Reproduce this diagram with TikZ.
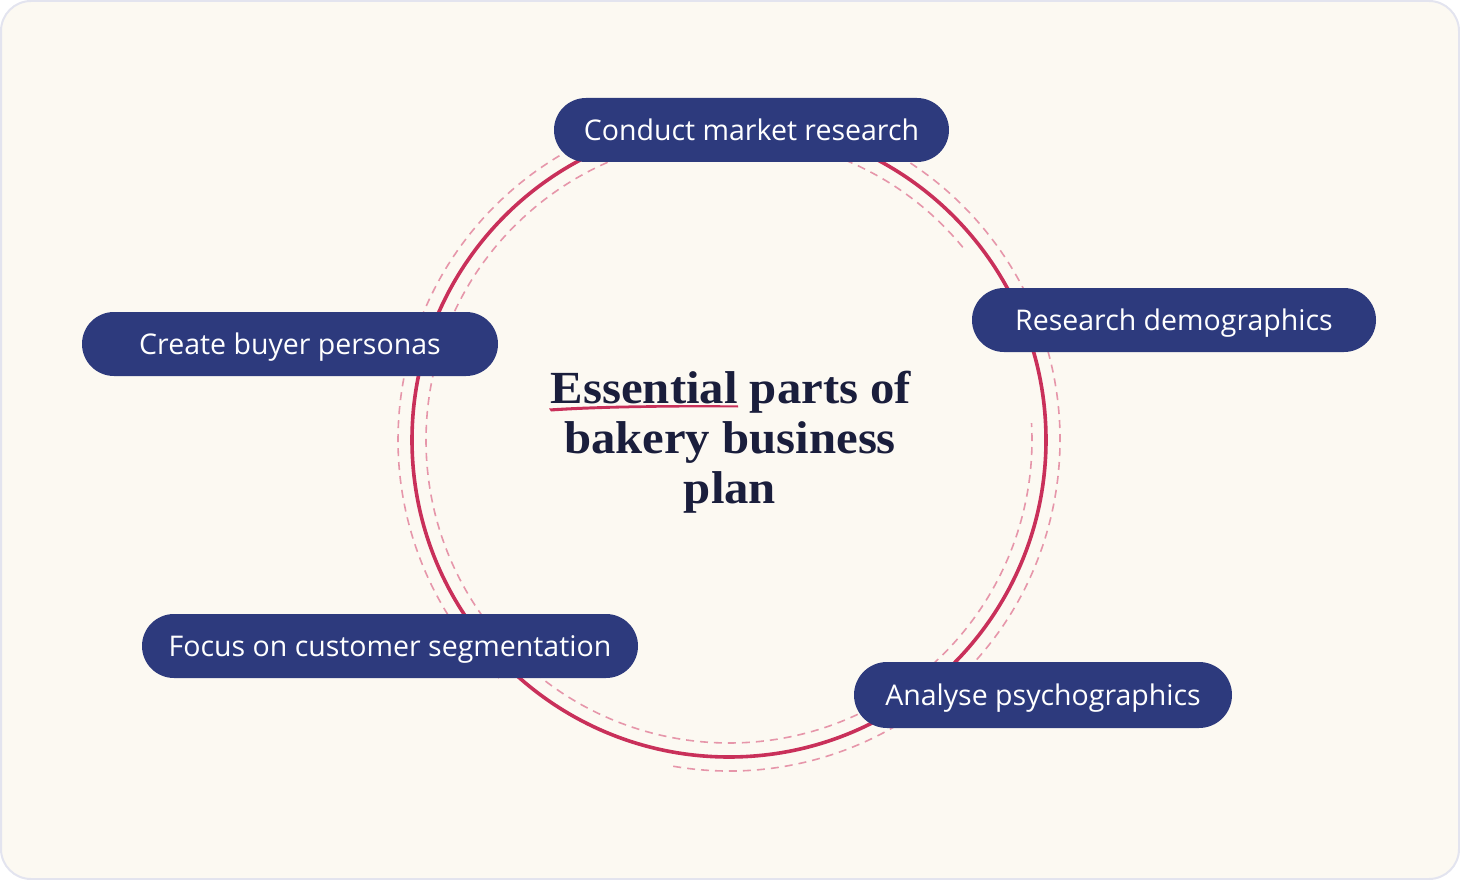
\documentclass[tikz,border=0pt]{standalone}
\usepackage{fontspec}
\setmainfont{Liberation Serif}
\newfontfamily\pillfont{Open Sans}
\newfontfamily\titlefont{Liberation Serif}[FakeStretch=1.06]
\definecolor{bgcream}{HTML}{FCF9F2}
\definecolor{bgborder}{HTML}{E3E4EF}
\definecolor{pillnavy}{HTML}{2D3A7D}
\definecolor{crimson}{HTML}{C9305A}
\definecolor{dashpink}{HTML}{E696AA}
\definecolor{titlenavy}{HTML}{1A1E3C}
\tikzset{
  pill/.style={fill=pillnavy, rounded corners=32pt, minimum height=64pt, inner sep=0pt,
    text height=20.3pt, text depth=0pt,
    text=white, font=\pillfont\fontsize{28.5}{32}\selectfont},
  mainring/.style={draw=crimson, line width=3.6pt},
  dashring/.style={draw=dashpink, line width=1.6pt, dash pattern=on 8pt off 6pt},
  titletext/.style={font=\titlefont\bfseries\fontsize{46}{50}\selectfont, text=titlenavy, anchor=base, inner sep=0pt},
}
\begin{document}
\begin{tikzpicture}[x=1pt,y=-1pt]
\useasboundingbox (0,0) rectangle (1460,880);
\draw[fill=bgcream, draw=bgborder, line width=2pt, rounded corners=30pt] (1,1) rectangle (1459,879);
\coordinate (C) at (729,440);
% rings
\draw[mainring] (C) circle[radius=317];
\draw[dashring] (C) ++(-39.5:303) arc[start angle=-39.5, end angle=-363.2, radius=303];
\draw[dashring] (C) ++(-260.3:331) arc[start angle=-260.3, end angle=-586, radius=331];
% pills
\node[pill, minimum width=395pt] (p1) at (751.5,130) {Conduct market research};
\node[pill, minimum width=404pt] (p2) at (1174,320) {Research demographics};
\node[pill, minimum width=416pt] (p3) at (290,344) {Create buyer personas};
\node[pill, minimum width=496pt] (p4) at (390,646) {Focus on customer segmentation};
\node[pill, minimum width=378pt, minimum height=66pt, rounded corners=33pt] (p5) at (1043,695) {Analyse psychographics};
% title
\node[titletext] (t1) at (731,403) {Essential parts of};
\node[titletext] (t2) at (730,453) {bakery business};
\node[titletext] (t3) at (730,503) {plan};
\fill[crimson] (549,408.5) .. controls (600,405) and (680,404.5) .. (738,405.5)
  -- (738,407.5) .. controls (680,407) and (600,408) .. (551,411.5) -- cycle;
\end{tikzpicture}
\end{document}
